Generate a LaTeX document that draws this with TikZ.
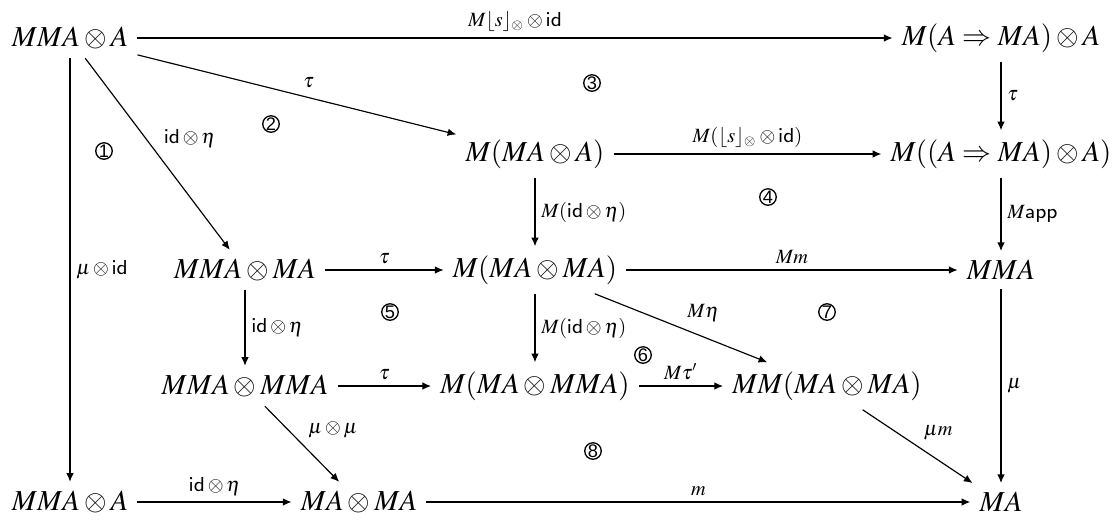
\documentclass[tikz,border=0pt]{standalone}
\usepackage{mathptmx}
\usepackage[no-math]{fontspec}
\setsansfont{Liberation Sans}
\usetikzlibrary{arrows.meta}

\begin{document}
\begin{tikzpicture}[x=0.3455pt, y=-0.3455pt, every node/.style={inner sep=3pt}, lbl/.style={font=\scriptsize, auto, inner sep=2pt}, circnum/.style={circle, draw, line width=0.45pt, inner sep=0pt, minimum size=5.7pt, font=\sffamily\fontsize{6.3}{7}\selectfont}, >={Latex[length=3pt,width=2.6pt]}]

\useasboundingbox (0,0) rectangle (1117,521);

\node (mmaA) at (70,38) {$MMA\otimes A$};
\node (mexpA) at (1001,38) {$M(A\Rightarrow MA)\otimes A$};
\node (mmaAin) at (535,154) {$M(MA\otimes A)$};
\node (mexpAin) at (1001,154) {$M((A\Rightarrow MA)\otimes A)$};
\node (mmaMa) at (245,270) {$MMA\otimes MA$};
\node (mMaMa) at (535,270) {$M(MA\otimes MA)$};
\node (mma) at (1001,270) {$MMA$};
\node (mmaMma) at (245,386) {$MMA\otimes MMA$};
\node (mMaMma) at (535,386) {$M(MA\otimes MMA)$};
\node (mmMaMa) at (827,386) {$MM(MA\otimes MA)$};
\node (mmaAbot) at (70,502) {$MMA\otimes A$};
\node (maMa) at (359,502) {$MA\otimes MA$};
\node (ma) at (1001,502) {$MA$};

\draw[->] (mmaA) -- node[lbl] {$M\lfloor s\rfloor_{\otimes}\otimes\mathsf{id}$} (mexpA);
\draw[->] (mmaA) -- node[lbl] {$\tau$} (mmaAin);
\draw[->] (mmaA) -- node[lbl] {$\mathsf{id}\otimes\eta$} (mmaMa);
\draw[->] (mmaA) -- node[lbl] {$\mu\otimes\mathsf{id}$} (mmaAbot);
\draw[->] (mexpA) -- node[lbl] {$\tau$} (mexpAin);
\draw[->] (mmaAin) -- node[lbl] {$M(\lfloor s\rfloor_{\otimes}\otimes\mathsf{id})$} (mexpAin);
\draw[->] (mmaAin) -- node[lbl] {$M(\mathsf{id}\otimes\eta)$} (mMaMa);
\draw[->] (mexpAin) -- node[lbl] {$M\mathsf{app}$} (mma);
\draw[->] (mmaMa) -- node[lbl] {$\tau$} (mMaMa);
\draw[->] (mMaMa) -- node[lbl] {$Mm$} (mma);
\draw[->] (mMaMa) -- node[lbl] {$M\eta$} (mmMaMa);
\draw[->] (mmaMa) -- node[lbl] {$\mathsf{id}\otimes\eta$} (mmaMma);
\draw[->] (mMaMa) -- node[lbl] {$M(\mathsf{id}\otimes\eta)$} (mMaMma);
\draw[->] (mma) -- node[lbl] {$\mu$} (ma);
\draw[->] (mmaMma) -- node[lbl] {$\tau$} (mMaMma);
\draw[->] (mMaMma) -- node[lbl] {$M\tau'$} (mmMaMa);
\draw[->] (mmaMma) -- node[lbl] {$\mu\otimes\mu$} (maMa);
\draw[->] (mmMaMa) -- node[lbl] {$\mu m$} (ma);
\draw[->] (mmaAbot) -- node[lbl] {$\mathsf{id}\otimes\eta$} (maMa);
\draw[->] (maMa) -- node[lbl] {$m$} (ma);

% regions
\node[circnum] (r1) at (104,151) {1};
\node[circnum] (r2) at (271,124) {2};
\node[circnum] (r3) at (592,83) {3};
\node[circnum] (r4) at (768,197) {4};
\node[circnum] (r5) at (390,312) {5};
\node[circnum] (r6) at (643,355) {6};
\node[circnum] (r7) at (827,312) {7};
\node[circnum] (r8) at (593,451) {8};

\end{tikzpicture}
\end{document}
